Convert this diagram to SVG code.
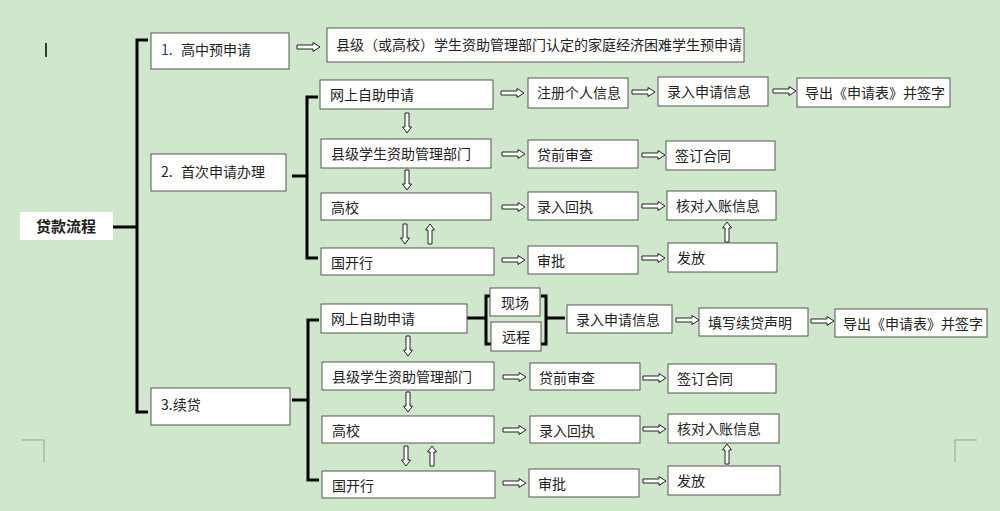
<svg xmlns="http://www.w3.org/2000/svg" xmlns:xlink="http://www.w3.org/1999/xlink" width="1000" height="511" viewBox="0 0 1000 511">
<style>
.b{fill:#fff;stroke:#555;stroke-width:1}
.t{font-family:"Noto Sans CJK SC","Liberation Sans",sans-serif;font-size:14px;fill:#222}
.k{fill:none;stroke:#000;stroke-width:3}
.a{fill:#fff;stroke:#222;stroke-width:1}
</style>
<defs>
<path id="R" class="a" d="M0,-2H16V-4.5L23,0L16,4.5V2H0Z"/>
<path id="D" class="a" d="M-2,0V14H-4.5L0,20L4.5,14H2V0Z"/>
<path id="U" class="a" d="M-2,20V6H-4.5L0,0L4.5,6H2V20Z"/>
</defs>
<rect width="1000" height="511" fill="#cfe8cc"/>
<g stroke="#999" fill="none"><path d="M22,440H44V462M977,440H955V462"/></g>
<path d="M46,43V57" stroke="#000" stroke-width="1.5"/>
<g id="connectors">
<path class="k" d="M113,227H137M148,40H137V412H148M292,176H307M318,97H307V258H318M292,400H308M319,320H308V480H319M467,318H486M491,296H486V344H491M541,296H546V344H541M546,318H565"/>
<use href="#R" x="297" y="47"/>
<use href="#R" x="501" y="93"/><use href="#R" x="632" y="92"/><use href="#R" x="773" y="91"/>
<use href="#R" x="502" y="154"/><use href="#R" x="642" y="155"/>
<use href="#R" x="502" y="207"/><use href="#R" x="642" y="206"/>
<use href="#R" x="502" y="260"/><use href="#R" x="642" y="258"/>
<use href="#D" x="407" y="113"/><use href="#D" x="407" y="170"/>
<use href="#D" x="405" y="224"/><use href="#U" x="430" y="224"/><use href="#U" x="727" y="222"/>
<use href="#R" x="676" y="320"/><use href="#R" x="811" y="321"/>
<use href="#R" x="503" y="377"/><use href="#R" x="643" y="378"/>
<use href="#R" x="503" y="430"/><use href="#R" x="643" y="429"/>
<use href="#R" x="503" y="483"/><use href="#R" x="643" y="481"/>
<use href="#D" x="408" y="336"/><use href="#D" x="408" y="392"/>
<use href="#D" x="406" y="446"/><use href="#U" x="432" y="446"/><use href="#U" x="727" y="444"/>
</g>
<g id="root"><rect x="20" y="212" width="93" height="28" fill="#fff"/><text x="36" y="232" class="t" style="font-weight:bold;font-size:15px">贷款流程</text></g>
<g id="n1"><rect class="b" x="151" y="33" width="138" height="36"/><text x="161" y="55" class="t"><tspan fill="#1f3d99">1.</tspan><tspan x="181">高中预申请</tspan></text></g>
<g id="n1a"><rect class="b" x="327" y="28" width="417" height="34"/><text x="336" y="50" class="t">县级（或高校）学生资助管理部门认定的家庭经济困难学生预申请</text></g>
<g id="n2"><rect class="b" x="151" y="154" width="135" height="37"/><text x="161" y="177" class="t">2.<tspan x="181">首次申请办理</tspan></text></g>
<g id="s2a"><rect class="b" x="320" y="80" width="173" height="29"/><text x="330" y="100" class="t">网上自助申请</text></g>
<g id="s2a1"><rect class="b" x="528" y="78" width="100" height="30"/><text x="537" y="98" class="t">注册个人信息</text></g>
<g id="s2a2"><rect class="b" x="658" y="77" width="110" height="29"/><text x="667" y="97" class="t">录入申请信息</text></g>
<g id="s2a3"><rect class="b" x="797" y="78" width="153" height="29"/><text x="805" y="98" class="t">导出《申请表》并签字</text></g>
<g id="s2b"><rect class="b" x="321" y="139" width="170" height="29"/><text x="331" y="159" class="t">县级学生资助管理部门</text></g>
<g id="s2b1"><rect class="b" x="528" y="140" width="110" height="28"/><text x="537" y="160" class="t">贷前审查</text></g>
<g id="s2b2"><rect class="b" x="666" y="141" width="109" height="29"/><text x="675" y="161" class="t">签订合同</text></g>
<g id="s2c"><rect class="b" x="321" y="193" width="170" height="27"/><text x="331" y="213" class="t">高校</text></g>
<g id="s2c1"><rect class="b" x="528" y="192" width="110" height="28"/><text x="537" y="212" class="t">录入回执</text></g>
<g id="s2c2"><rect class="b" x="667" y="191" width="109" height="29"/><text x="676" y="211" class="t">核对入账信息</text></g>
<g id="s2d"><rect class="b" x="321" y="248" width="173" height="27"/><text x="331" y="268" class="t">国开行</text></g>
<g id="s2d1"><rect class="b" x="528" y="246" width="110" height="28"/><text x="537" y="266" class="t">审批</text></g>
<g id="s2d2"><rect class="b" x="668" y="243" width="109" height="29"/><text x="677" y="263" class="t">发放</text></g>
<g id="n3"><rect class="b" x="151" y="388" width="139" height="37"/><text x="161" y="410" class="t">3.续贷</text></g>
<g id="s3a"><rect class="b" x="321" y="304" width="146" height="29"/><text x="331" y="324" class="t">网上自助申请</text></g>
<g id="s3x"><rect class="b" x="490" y="288" width="50" height="28"/><text x="501" y="308" class="t">现场</text></g>
<g id="s3y"><rect class="b" x="491" y="322" width="50" height="29"/><text x="502" y="342" class="t">远程</text></g>
<g id="s3a1"><rect class="b" x="567" y="305" width="105" height="28"/><text x="576" y="325" class="t">录入申请信息</text></g>
<g id="s3a2"><rect class="b" x="699" y="308" width="109" height="28"/><text x="708" y="328" class="t">填写续贷声明</text></g>
<g id="s3a3"><rect class="b" x="835" y="309" width="152" height="28"/><text x="843" y="329" class="t">导出《申请表》并签字</text></g>
<g id="s3b"><rect class="b" x="322" y="362" width="172" height="28"/><text x="332" y="382" class="t">县级学生资助管理部门</text></g>
<g id="s3b1"><rect class="b" x="530" y="363" width="110" height="27"/><text x="539" y="383" class="t">贷前审查</text></g>
<g id="s3b2"><rect class="b" x="668" y="364" width="108" height="29"/><text x="677" y="384" class="t">签订合同</text></g>
<g id="s3c"><rect class="b" x="322" y="416" width="172" height="27"/><text x="332" y="436" class="t">高校</text></g>
<g id="s3c1"><rect class="b" x="530" y="416" width="110" height="27"/><text x="539" y="436" class="t">录入回执</text></g>
<g id="s3c2"><rect class="b" x="668" y="414" width="111" height="29"/><text x="677" y="434" class="t">核对入账信息</text></g>
<g id="s3d"><rect class="b" x="322" y="471" width="173" height="27"/><text x="332" y="491" class="t">国开行</text></g>
<g id="s3d1"><rect class="b" x="529" y="469" width="110" height="28"/><text x="538" y="489" class="t">审批</text></g>
<g id="s3d2"><rect class="b" x="668" y="466" width="112" height="29"/><text x="677" y="486" class="t">发放</text></g>
</svg>
